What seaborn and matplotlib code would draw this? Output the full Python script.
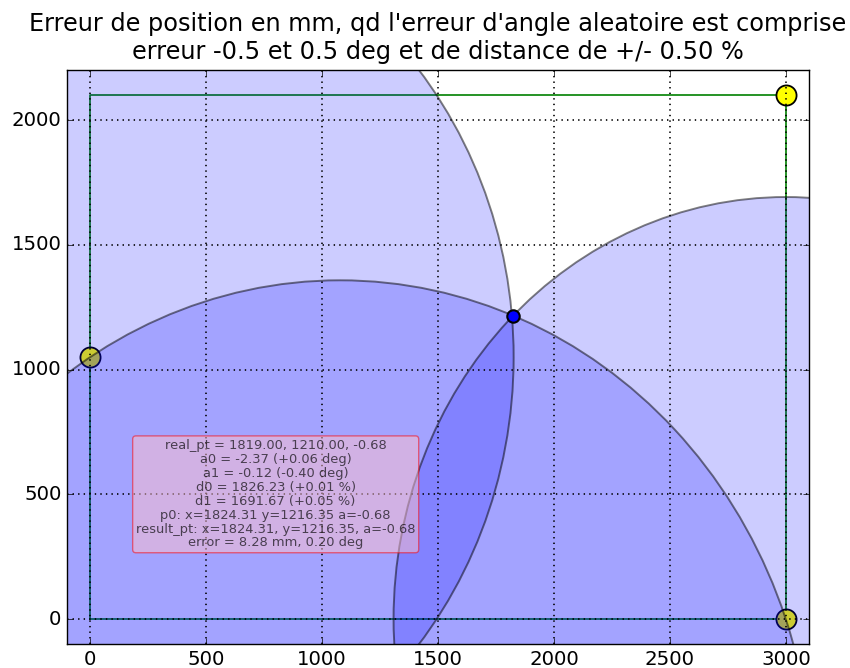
import matplotlib
matplotlib.use("Agg")
import matplotlib.pyplot as plt
from matplotlib.patches import Circle
import seaborn as sns
import numpy as np

# ---- data ----
beacon_x = [0, 3000, 3000]
beacon_y = [1050, 0, 2100]
point_x = [1824.31]
point_y = [1216.35]
circle_cx = [0.0, 3000.0, 1077.6]
circle_cy = [1050.0, 0.0, -681.7]
circle_r = [1826.23, 1691.67, 2039.6]
table_x = [0, 3000, 3000, 0, 0]
table_y = [0, 0, 2100, 2100, 0]
x_ticks = [0, 500, 1000, 1500, 2000, 2500, 3000]
y_ticks = [0, 500, 1000, 1500, 2000]
title = ("Erreur de position en mm, qd l'erreur d'angle aleatoire est comprise\n"
         "erreur -0.5 et 0.5 deg et de distance de +/- 0.50 %")
info_lines = [
    "real_pt = 1819.00, 1210.00, -0.68",
    "a0 = -2.37 (+0.06 deg)",
    "a1 = -0.12 (-0.40 deg)",
    "d0 = 1826.23 (+0.01 %)",
    "d1 = 1691.67 (+0.05 %)",
    "p0: x=1824.31 y=1216.35 a=-0.68",
    "result_pt: x=1824.31, y=1216.35, a=-0.68",
    "error = 8.28 mm, 0.20 deg",
]
info_pos = (800, 500)

plt.style.use("classic")
plt.rcParams["font.family"] = ["DejaVu Sans"]
plt.rcParams["figure.facecolor"] = "white"
plt.rcParams["savefig.facecolor"] = "white"

fig = plt.figure(figsize=(8.5, 6.68), dpi=100)
ax = fig.add_axes([0.0788, 0.0359, 0.873, 0.859])

# table outline
sns.lineplot(x=table_x, y=table_y, sort=False, estimator=None, color="green",
             linewidth=1.2, ax=ax, zorder=0.8)
# beacons
sns.scatterplot(x=beacon_x, y=beacon_y, s=210, color="yellow", edgecolor="black",
                linewidth=1.3, ax=ax, zorder=0.9)

for cx, cy, r in zip(circle_cx, circle_cy, circle_r):
    ax.add_patch(Circle((cx, cy), r, facecolor="blue", edgecolor="none", alpha=0.2, zorder=1))
    ax.add_patch(Circle((cx, cy), r, fill=False, edgecolor="black", alpha=0.5,
                        linewidth=1.4, zorder=1.1))

sns.scatterplot(x=point_x, y=point_y, s=80, color="blue", edgecolor="black",
                linewidth=1.5, ax=ax, zorder=3)

ax.text(info_pos[0], info_pos[1], "\n".join(info_lines), ha="center", va="center",
        fontsize=9.4, linespacing=1.09, color="black", alpha=0.65, zorder=4,
        bbox=dict(boxstyle="round,pad=0.25", facecolor="pink", edgecolor="red", alpha=0.5))

ax.set_xlim(-100, 3100)
ax.set_ylim(-100, 2200)
ax.set_xticks(x_ticks)
ax.set_yticks(y_ticks)
ax.tick_params(labelsize=14.2)
ax.grid(True, linestyle=":", color="black", linewidth=1.2)
ax.set_axisbelow(False)
ax.set_title(title, fontsize=17.3, pad=8)
ax.set_xlabel("")
ax.set_ylabel("")

fig.savefig("out.png", dpi=100)
